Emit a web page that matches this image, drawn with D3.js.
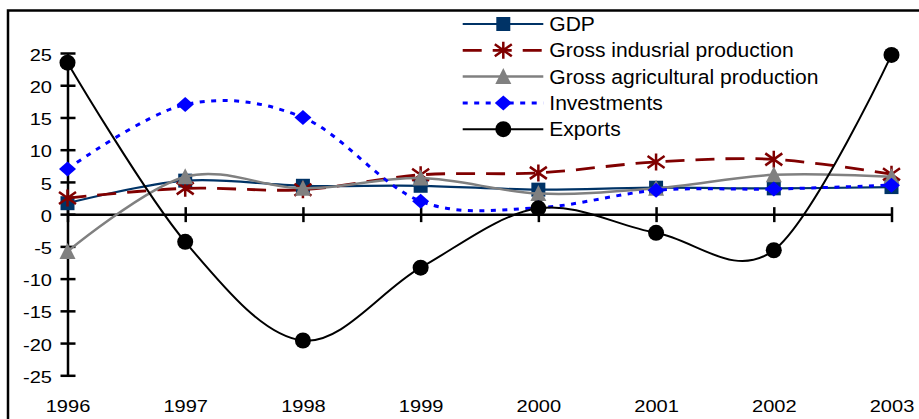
<!DOCTYPE html>
<html>
<head>
<meta charset="utf-8">
<script src="https://cdn.jsdelivr.net/npm/d3@7"></script>
<style>
  html, body { margin: 0; padding: 0; background: #fff; overflow: hidden; }
  svg { display: block; }
  text { font-family: "Liberation Sans", Arial, sans-serif; fill: #000; }
</style>
</head>
<body>
<svg id="chart" width="919" height="419"></svg>
<script>
// Annual growth rates, %
const years = [1996, 1997, 1998, 1999, 2000, 2001, 2002, 2003];
const yTicks = [-25, -20, -15, -10, -5, 0, 5, 10, 15, 20, 25];

const gdp          = [1.7, 5.2, 4.4, 4.4, 3.8, 4.1, 4.0, 4.2];
const industrial   = [2.5, 4.0, 3.8, 6.1, 6.4, 8.1, 8.5, 6.2];
const agricultural = [-5.8, 5.8, 4.0, 5.6, 3.2, 4.0, 6.1, 5.8];
const investments  = [7.0, 17.0, 15.0, 2.0, 1.0, 3.7, 3.9, 4.5];
const exportsVals  = [23.5, -4.3, -19.6, -8.3, 0.9, -2.9, -5.6, 24.7];

const seriesNames = ["GDP", "Gross indusrial production", "Gross agricultural production", "Investments", "Exports"];

// marker shapes
function squarePath(p) { p.rect(-7, -7, 14, 14); return p; }
function starPath(p) {
  p.moveTo(0, -8.5); p.lineTo(0, 8.5);
  p.moveTo(-8.5, -6); p.lineTo(8.5, 6);
  p.moveTo(-8.5, 6); p.lineTo(8.5, -6);
  return p;
}
function trianglePath(p) { p.moveTo(0, -8.5); p.lineTo(8, 7.5); p.lineTo(-8, 7.5); p.closePath(); return p; }
function diamondPath(p) { p.moveTo(0, -7.5); p.lineTo(8.5, 0); p.lineTo(0, 7.5); p.lineTo(-8.5, 0); p.closePath(); return p; }
function circlePath(p) { p.moveTo(8, 0); p.arc(0, 0, 8, 0, 2 * Math.PI); return p; }

const series = [
  { name: seriesNames[0], values: gdp,          color: "#003366", width: 2.2, dash: null,    shape: squarePath,   fill: "#003366", stroke: "none" },
  { name: seriesNames[1], values: industrial,   color: "#800000", width: 2.8, dash: "19,11", shape: starPath,     fill: "none",    stroke: "#800000" },
  { name: seriesNames[2], values: agricultural, color: "#808080", width: 2.5, dash: null,    shape: trianglePath, fill: "#808080", stroke: "none" },
  { name: seriesNames[3], values: investments,  color: "#0000ff", width: 3,   dash: "5,6.5", shape: diamondPath,  fill: "#0000ff", stroke: "none" },
  { name: seriesNames[4], values: exportsVals,  color: "#000000", width: 2,   dash: null,    shape: circlePath,   fill: "#000000", stroke: "none" }
];

const svg = d3.select("#chart");

const x = d3.scalePoint().domain(years).range([67.5, 891.5]);
const y = d3.scaleLinear().domain([-25, 25]).range([375.3, 53]);

// outer frame
svg.append("rect")
  .attr("x", 8).attr("y", 10.5)
  .attr("width", 1000).attr("height", 500)
  .attr("fill", "none").attr("stroke", "#000").attr("stroke-width", 2.5);

// y axis with crossing ticks
const yAxisG = svg.append("g")
  .attr("transform", `translate(${x(years[0])},0)`)
  .call(d3.axisLeft(y).tickValues(yTicks).tickSizeOuter(0).tickFormat(d => String(d)));
yAxisG.select(".domain").attr("stroke", "#000").attr("stroke-width", 2.5);
yAxisG.selectAll(".tick line").attr("x1", -7).attr("x2", 8).attr("stroke", "#000").attr("stroke-width", 2.5);
yAxisG.selectAll(".tick text")
  .attr("x", 0).attr("dy", "0.36em")
  .attr("transform", "translate(-15.5,1) scale(1.18,1)")
  .attr("text-anchor", "end")
  .style("font-size", "17px").style("font-family", "'Liberation Sans', Arial, sans-serif");

// x axis along zero with crossing ticks
const xAxisG = svg.append("g")
  .attr("transform", `translate(0,${y(0)})`)
  .call(d3.axisBottom(x).tickSizeOuter(0).tickFormat(""));
xAxisG.select(".domain").attr("stroke", "#000").attr("stroke-width", 2.5);
xAxisG.selectAll(".tick line").attr("y1", -7).attr("y2", 8).attr("stroke", "#000").attr("stroke-width", 2.5);

// year labels at the bottom
const yearAxisG = svg.append("g")
  .attr("transform", "translate(0,412)")
  .call(d3.axisBottom(x).tickSize(0).tickFormat(d => String(d)));
yearAxisG.select(".domain").remove();
yearAxisG.selectAll(".tick text")
  .attr("y", 0).attr("dy", 0)
  .attr("transform", "scale(1.18,1)")
  .attr("text-anchor", "middle")
  .style("font-size", "17px").style("font-family", "'Liberation Sans', Arial, sans-serif");

// series lines and markers
const line = d3.line()
  .x((d, i) => x(years[i]))
  .y(d => y(d))
  .curve(d3.curveCardinal.tension(0));

series.forEach(s => {
  const g = svg.append("g");
  g.append("path")
    .attr("d", line(s.values))
    .attr("fill", "none")
    .attr("stroke", s.color)
    .attr("stroke-width", s.width)
    .attr("stroke-dasharray", s.dash);
  g.selectAll("path.marker")
    .data(s.values)
    .join("path")
    .attr("class", "marker")
    .attr("transform", (d, i) => `translate(${x(years[i])},${y(d)})`)
    .attr("d", s.shape(d3.path()).toString())
    .attr("fill", s.fill)
    .attr("stroke", s.stroke)
    .attr("stroke-width", 2.5);
});

// legend
const legend = svg.append("g");
const legendRow = i => 24 + i * 26.3;
series.forEach((s, i) => {
  const ly = legendRow(i);
  legend.append("line")
    .attr("x1", 462.7).attr("x2", 543.3)
    .attr("y1", ly).attr("y2", ly)
    .attr("stroke", s.color)
    .attr("stroke-width", s.width)
    .attr("stroke-dasharray", s.dash);
  legend.append("path")
    .attr("transform", `translate(503.3,${ly})`)
    .attr("d", s.shape(d3.path()).toString())
    .attr("fill", s.fill)
    .attr("stroke", s.stroke)
    .attr("stroke-width", 2.5);
  legend.append("text")
    .attr("transform", `translate(549.3,${ly}) scale(1.08,1)`)
    .attr("dy", "0.36em")
    .style("font-size", "19.5px")
    .text(s.name);
});
</script>
</body>
</html>
